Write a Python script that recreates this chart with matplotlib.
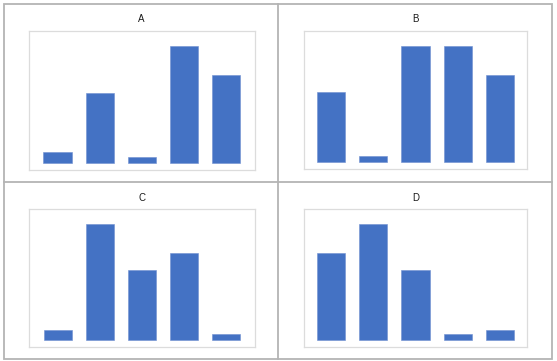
import matplotlib.pyplot as plt
from matplotlib.lines import Line2D
from matplotlib.patches import Rectangle

W, H = 557, 361

panel_titles = ['A', 'B', 'C', 'D']
values_a = [9, 60, 5, 100, 75]
values_b = [60, 5, 100, 100, 75]
values_c = [9, 100, 60, 75, 5]
values_d = [75, 100, 60, 5, 9]
panel_values = [values_a, values_b, values_c, values_d]

bar_color = '#4472C4'

# pixel boxes of each plot area: left, top, right, bottom
boxes = [(29, 31, 255, 170), (303.7, 31.3, 527.3, 169.3),
         (29.3, 209.3, 254.7, 347.3), (303.7, 209.3, 527.3, 347)]
xlims = [(-0.675, 4.68), (-0.646, 4.646), (-0.675, 4.68), (-0.646, 4.646)]
title_pos = [(141.7, 19.5), (415.3, 19.5), (141.7, 198), (415.3, 198)]


def fx(px):
    return px / W


def fy(py):
    return 1 - py / H


fig = plt.figure(figsize=(W / 100, H / 100), dpi=100)
fig.patch.set_facecolor('white')

# grid of panel borders
grid_col = '#b4b4b4'
fig.add_artist(Rectangle((fx(4), fy(359)), fx(552) - fx(4), fy(4.3) - fy(359),
                         fill=False, edgecolor=grid_col, linewidth=1.3,
                         transform=fig.transFigure))
fig.add_artist(Line2D([fx(278.3), fx(278.3)], [fy(359), fy(4.3)],
                      color=grid_col, linewidth=1.3, transform=fig.transFigure))
fig.add_artist(Line2D([fx(4), fx(552)], [fy(182), fy(182)],
                      color=grid_col, linewidth=1.3, transform=fig.transFigure))

for i in range(4):
    l, t, r, b = boxes[i]
    ax = fig.add_axes([fx(l), fy(b), fx(r) - fx(l), fy(t) - fy(b)])
    cats = list(range(len(panel_values[i])))
    ax.bar(cats, panel_values[i], width=0.67, color=bar_color,
           edgecolor='#6f8fd0', linewidth=0.4)
    ax.set_xlim(*xlims[i])
    ax.set_ylim(-6, 112.5)
    ax.set_xticks([])
    ax.set_yticks([])
    for s in ax.spines.values():
        s.set_color('#dcdcdc')
        s.set_linewidth(0.9)
    tx, ty = title_pos[i]
    fig.text(fx(tx), fy(ty), panel_titles[i], ha='center', va='center',
             fontsize=7, family='Liberation Sans', color='#1a1a1a')

fig.savefig('out.png', dpi=100)
